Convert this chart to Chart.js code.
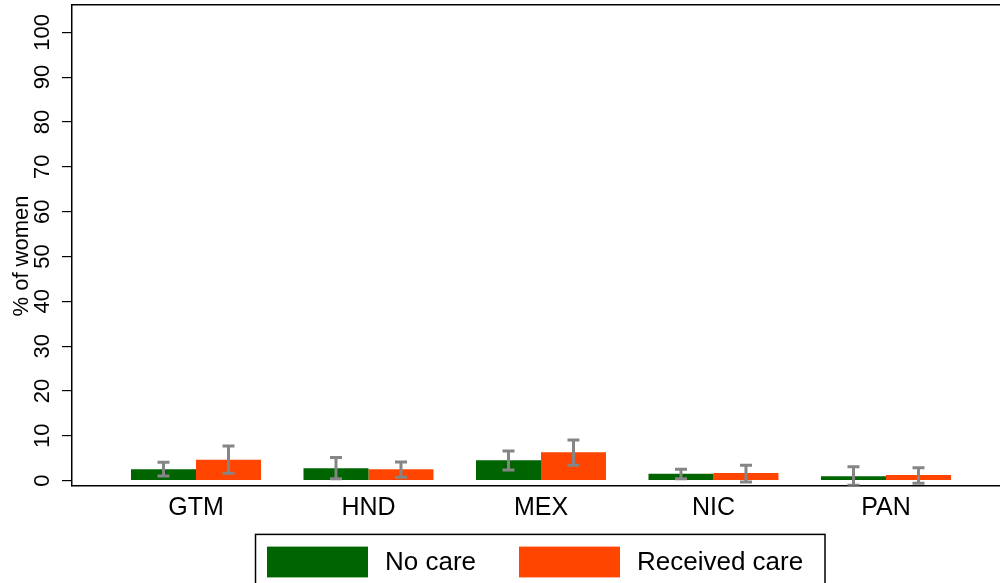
<!DOCTYPE html>
<html>
<head>
<meta charset="utf-8">
<script src="https://cdn.jsdelivr.net/npm/chart.js@4/dist/chart.umd.min.js"></script>
<style>
  html, body { margin: 0; padding: 0; background: #ffffff; overflow: hidden; }
  canvas { display: block; }
</style>
</head>
<body>
<canvas id="chart" width="1000" height="583"></canvas>
<script>
// Countries on the x axis
const categories = ['GTM', 'HND', 'MEX', 'NIC', 'PAN'];

// % of women, women who did not receive care
const noCare     = [2.55, 2.77, 4.55, 1.56, 0.98];
const noCareLow  = [1.05, 0.45, 2.39, 0.45, -1.0];
const noCareHigh = [4.10, 5.20, 6.62, 2.54, 3.12];

// % of women, women who received care
const care     = [4.68, 2.54, 6.33, 1.72, 1.27];
const careLow  = [1.65, 0.76, 3.43, -0.30, -0.58];
const careHigh = [7.74, 4.17, 9.08, 3.43, 2.90];

// y-axis tick labels
const yTicks = [0, 10, 20, 30, 40, 50, 60, 70, 80, 90, 100];

const FONT = '"Liberation Sans", Arial, Helvetica, sans-serif';

const toPoints = (vals) => vals.map((v, i) => ({ x: i + 1, y: v }));

// Confidence-interval whiskers on each bar
const errorBars = {
  id: 'errorBars',
  afterDatasetsDraw(chart) {
    const { ctx, chartArea, scales: { y } } = chart;
    ctx.save();
    ctx.beginPath();
    ctx.rect(chartArea.left, chartArea.top, chartArea.right - chartArea.left, chartArea.bottom - chartArea.top);
    ctx.clip();
    ctx.strokeStyle = '#858585';
    ctx.lineWidth = 3;
    ctx.lineCap = 'butt';
    chart.data.datasets.forEach((ds, di) => {
      const meta = chart.getDatasetMeta(di);
      meta.data.forEach((bar, j) => {
        const x = bar.x;
        const yl = y.getPixelForValue(ds.low[j]);
        const yh = y.getPixelForValue(ds.high[j]);
        const hw = 6;
        ctx.beginPath();
        ctx.moveTo(x, yl); ctx.lineTo(x, yh);
        ctx.moveTo(x - hw, yl); ctx.lineTo(x + hw, yl);
        ctx.moveTo(x - hw, yh); ctx.lineTo(x + hw, yh);
        ctx.stroke();
      });
    });
    ctx.restore();
  }
};

// Plot frame top edge, rotated y labels, y title and boxed legend
const decorations = {
  id: 'decorations',
  afterDraw(chart) {
    const { ctx, chartArea, scales: { y } } = chart;
    ctx.save();
    // top edge of the plot region
    ctx.strokeStyle = '#000000';
    ctx.lineWidth = 1.5;
    ctx.beginPath();
    ctx.moveTo(chartArea.left - 0.75, chartArea.top);
    ctx.lineTo(chartArea.right, chartArea.top);
    ctx.stroke();

    // vertical y tick labels
    ctx.fillStyle = '#000000';
    ctx.font = '22px ' + FONT;
    ctx.textAlign = 'center';
    ctx.textBaseline = 'alphabetic';
    y.ticks.forEach((t) => {
      const py = y.getPixelForValue(t.value);
      ctx.save();
      ctx.translate(49, py);
      ctx.rotate(-Math.PI / 2);
      ctx.fillText(String(t.value), 0, 0);
      ctx.restore();
    });

    // y-axis title
    ctx.save();
    ctx.translate(28, 256);
    ctx.rotate(-Math.PI / 2);
    ctx.font = '22px ' + FONT;
    ctx.fillText('% of women', 0, 0);
    ctx.restore();

    // legend box
    ctx.lineWidth = 1.5;
    ctx.strokeStyle = '#000000';
    ctx.strokeRect(255.5, 534.4, 569.5, 60);
    const items = chart.data.datasets;
    const swatchX = [267, 519];
    ctx.font = '26px ' + FONT;
    ctx.textAlign = 'left';
    ctx.textBaseline = 'middle';
    items.forEach((ds, i) => {
      ctx.fillStyle = ds.backgroundColor;
      ctx.fillRect(swatchX[i], 546.6, 101, 30.8);
      ctx.fillStyle = '#000000';
      ctx.fillText(ds.label, swatchX[i] + 118, 563);
    });
    ctx.restore();
  }
};

new Chart(document.getElementById('chart'), {
  type: 'bar',
  data: {
    datasets: [
      {
        label: 'No care',
        data: toPoints(noCare),
        low: noCareLow,
        high: noCareHigh,
        backgroundColor: '#006400',
        borderWidth: 0
      },
      {
        label: 'Received care',
        data: toPoints(care),
        low: careLow,
        high: careHigh,
        backgroundColor: '#FF4500',
        borderWidth: 0
      }
    ]
  },
  options: {
    responsive: false,
    animation: false,
    devicePixelRatio: 1,
    categoryPercentage: 130 / 172.5,
    barPercentage: 1,
    layout: { padding: { top: 4.7, right: 0, left: 0, bottom: 0 } },
    plugins: {
      legend: { display: false },
      title: { display: false },
      tooltip: { enabled: false }
    },
    scales: {
      x: {
        type: 'linear',
        offset: false,
        min: 0.2812,
        max: 5.661,
        afterBuildTicks: (s) => { s.ticks = categories.map((c, i) => ({ value: i + 1 })); },
        afterFit: (s) => { s.height = 583 - 485.7; },
        ticks: {
          autoSkip: false,
          maxRotation: 0,
          minRotation: 0,
          padding: 7,
          color: '#000000',
          font: { family: FONT, size: 25 },
          callback: (v) => categories[Math.round(v) - 1] || ''
        },
        grid: { display: false, drawTicks: false, offset: false },
        border: { display: true, color: '#000000', width: 1.5 }
      },
      y: {
        type: 'linear',
        min: -1.115,
        max: 106.15,
        afterBuildTicks: (s) => { s.ticks = yTicks.map((v) => ({ value: v })); },
        afterFit: (s) => { s.width = 72; },
        ticks: { display: false },
        grid: {
          display: true,
          drawOnChartArea: false,
          drawTicks: true,
          tickLength: 10,
          color: '#000000',
          lineWidth: 1.2
        },
        border: { display: true, color: '#000000', width: 1.5 }
      }
    }
  },
  plugins: [errorBars, decorations]
});
</script>
</body>
</html>
